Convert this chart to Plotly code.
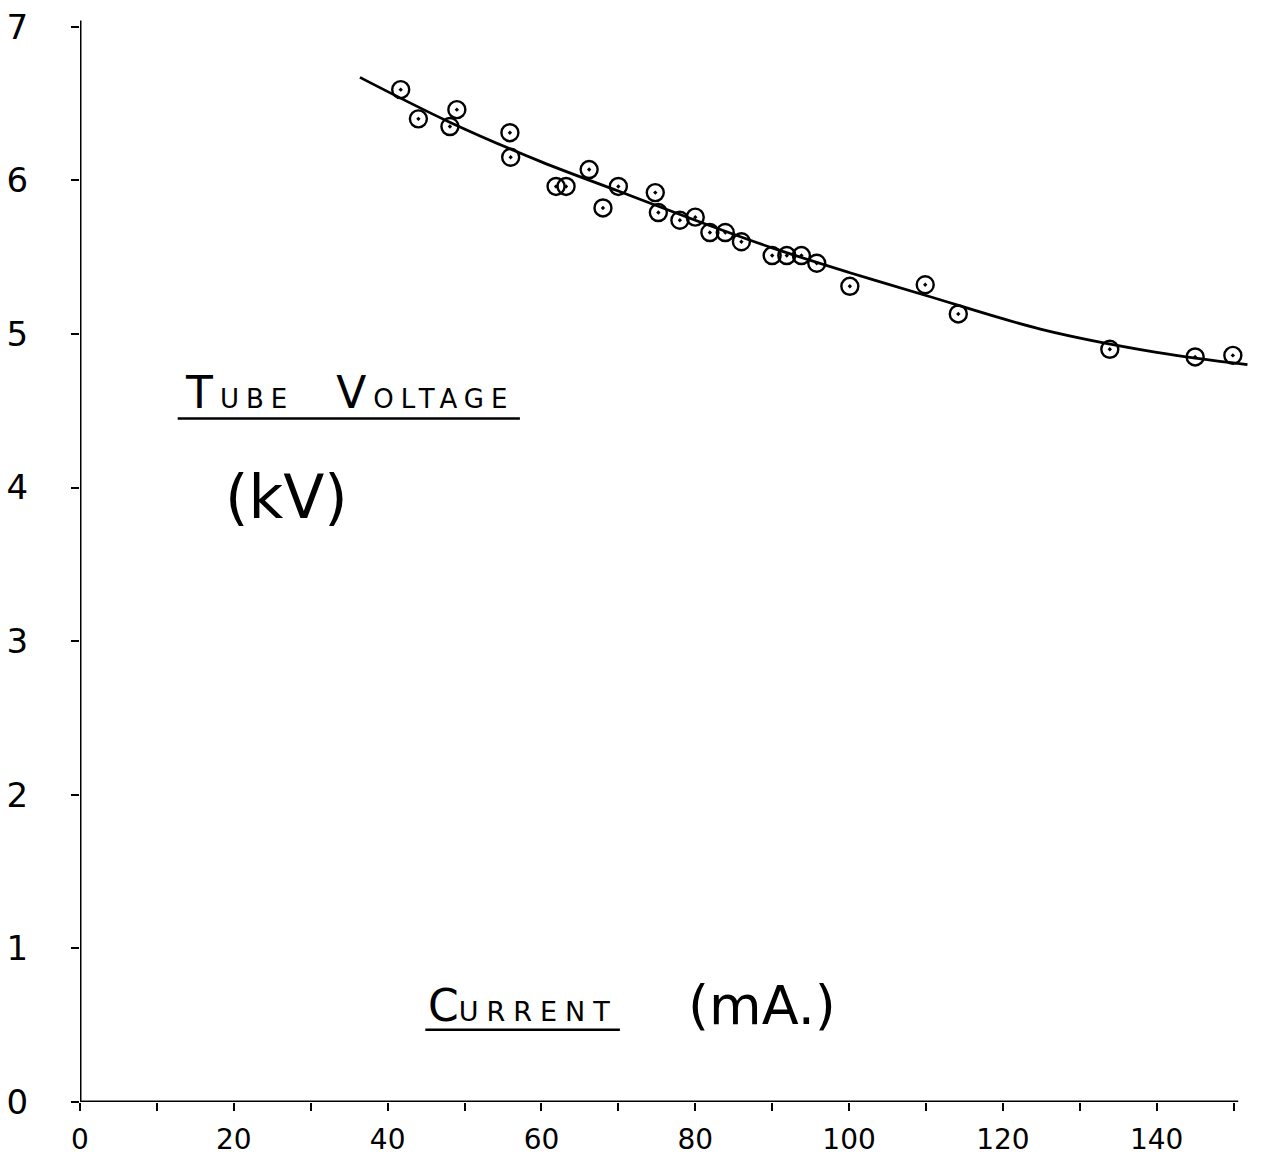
import plotly.graph_objects as go

# Measured data points (Current mA, Tube Voltage kV)
current_ma = [41.7, 44.0, 48.1, 49.0, 55.9, 56.0, 61.9, 63.2, 66.2, 68.0,
              70.0, 74.8, 75.2, 78.0, 80.0, 81.9, 83.9, 86.0, 90.0, 91.9,
              93.8, 95.8, 100.1, 109.9, 114.2, 133.9, 145.0, 149.9]
voltage_kv = [6.59, 6.40, 6.35, 6.46, 6.31, 6.15, 5.96, 5.96, 6.07, 5.82,
              5.96, 5.92, 5.79, 5.74, 5.76, 5.66, 5.66, 5.60, 5.51, 5.51,
              5.51, 5.46, 5.31, 5.32, 5.13, 4.90, 4.85, 4.86]

# Hand-drawn fitted curve
curve_x = [36.4, 48.0, 60.0, 70.0, 80.0, 90.0, 100.0, 110.0, 125.0, 140.0, 151.8]
curve_y = [6.67, 6.38, 6.12, 5.93, 5.74, 5.56, 5.40, 5.25, 5.03, 4.88, 4.80]

x_tickvals = [0, 10, 20, 30, 40, 50, 60, 70, 80, 90, 100, 110, 120, 130, 140, 150]
x_ticktext = ["0", "", "20", "", "40", "", "60", "", "80", "", "100", "", "120", "", "140", ""]
y_tickvals = [0, 1, 2, 3, 4, 5, 6, 7]
y_ticktext = ["0", "1", "2", "3", "4", "5", "6", "7"]

FONT = "DejaVu Sans"

fig = go.Figure()
fig.add_trace(go.Scatter(
    x=curve_x, y=curve_y, mode="lines",
    line=dict(color="black", width=2.8, shape="spline"),
    showlegend=False, hoverinfo="skip", cliponaxis=False,
))
fig.add_trace(go.Scatter(
    x=current_ma, y=voltage_kv, mode="markers",
    marker=dict(symbol="circle-open-dot", size=17, color="black",
                line=dict(color="black", width=2.4)),
    showlegend=False, cliponaxis=False,
))

small = "font-size:26px;letter-spacing:7px"
big = "letter-spacing:7px"
small2 = "font-size:27px;letter-spacing:8px"

fig.update_layout(
    width=1263, height=1160,
    margin=dict(l=80, r=14, t=19, b=58),
    paper_bgcolor="white", plot_bgcolor="white",
    font=dict(family=FONT, color="black"),
    xaxis=dict(
        range=[0, 152], showgrid=False, zeroline=False, automargin=False,
        showline=False, tickmode="array", tickvals=x_tickvals, ticktext=x_ticktext,
        ticks="outside", ticklen=8, tickwidth=2, tickcolor="black",
        tickfont=dict(family=FONT, size=28, color="black"),
        ticklabelstandoff=4,
    ),
    yaxis=dict(
        range=[0, 7.05], showgrid=False, zeroline=False, automargin=False,
        showline=False, tickmode="array", tickvals=y_tickvals, ticktext=y_ticktext,
        ticks="outside", ticklen=8, tickwidth=2, tickcolor="black",
        tickfont=dict(family=FONT, size=34, color="black"),
        ticklabelstandoff=36,
    ),
    shapes=[
        # axis lines
        dict(type="line", xref="x", yref="y", x0=0, x1=150.6, y0=0, y1=0,
             line=dict(color="black", width=3)),
        dict(type="line", xref="x", yref="y", x0=0, x1=0, y0=0, y1=7.04,
             line=dict(color="black", width=3)),
        # underlines
        dict(type="line", xref="x", yref="y", x0=12.7, x1=57.2, y0=4.45, y1=4.45,
             line=dict(color="black", width=2.5)),
        dict(type="line", xref="x", yref="y", x0=44.9, x1=70.2, y0=0.47, y1=0.47,
             line=dict(color="black", width=2.5)),
    ],
    annotations=[
        dict(x=35.0, y=4.62, xref="x", yref="y", showarrow=False,
             text=(f"<span style='{big}'>T</span><span style='{small}'>UBE</span>"
                   f"<span style='{big}'>  V</span><span style='{small}'>OLTAGE</span>"),
             font=dict(family=FONT, size=44, color="black")),
        dict(x=26.8, y=3.94, xref="x", yref="y", showarrow=False,
             text="(kV)", font=dict(family=FONT, size=60, color="black")),
        dict(x=57.6, y=0.63, xref="x", yref="y", showarrow=False,
             text=f"C<span style='{small2}'>URRENT</span>",
             font=dict(family=FONT, size=44, color="black")),
        dict(x=88.7, y=0.63, xref="x", yref="y", showarrow=False,
             text="(mA.)", font=dict(family=FONT, size=54, color="black")),
    ],
)

fig.write_html("out.html")
